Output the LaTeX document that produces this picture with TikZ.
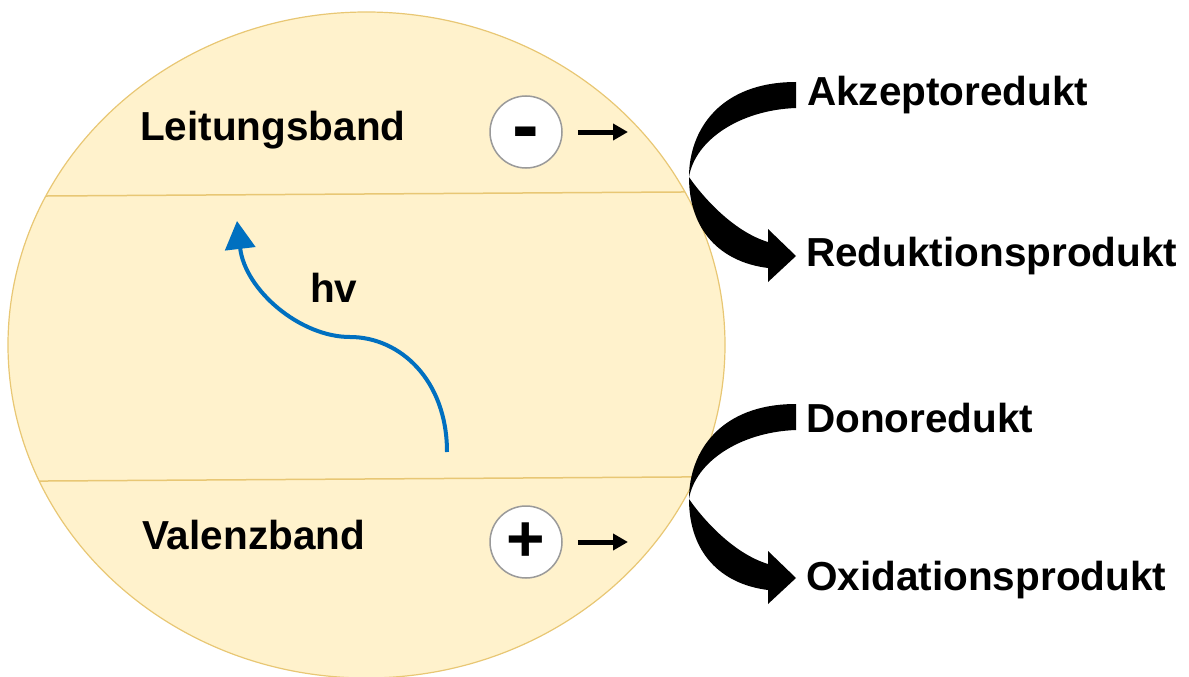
\documentclass[tikz,border=0pt]{standalone}
\usepackage{fontspec}
\setmainfont{Liberation Sans}
\usetikzlibrary{arrows.meta}
\definecolor{bandfill}{HTML}{FFF2CC}
\definecolor{bandline}{HTML}{E8C774}
\definecolor{hvblue}{HTML}{0070C0}
\definecolor{ringgray}{HTML}{9A9A9A}
\begin{document}
\begin{tikzpicture}[x=1pt,y=-1pt,
  lbl/.style={font=\fontsize{40.5}{48}\selectfont\bfseries, inner sep=0pt, anchor=base west},
  charge/.style={circle, draw=ringgray, line width=1.5pt, fill=white, minimum size=72pt, inner sep=0pt},
  smallarr/.style={line width=5pt, -{Triangle[length=15pt,width=16pt]}},
  bandsep/.style={draw=bandline, line width=1.5pt},
  curvearrow/.pic={
    \fill[black] (796,82) .. controls (720,82) and (689,130) .. (689,177)
      .. controls (689,230) and (720,262) .. (768,268)
      -- (768,282) -- (796,256) -- (768,229) -- (768,242)
      .. controls (735,232) and (705,200) .. (689,177)
      .. controls (695,140) and (740,110) .. (796,108) -- cycle;
  }]
\useasboundingbox (0,0) rectangle (1189,677);
% particle
\fill[bandfill] (366.5,345) ellipse [x radius=358.5, y radius=333];
\begin{scope}
  \clip (366.5,345) ellipse [x radius=358.5, y radius=333];
  \draw[bandsep] (0,196.3) -- (760,191.5);
  \draw[bandsep] (0,481.3) -- (760,476.5);
\end{scope}
\draw[bandline, line width=1.2pt] (366.5,345) ellipse [x radius=358.5, y radius=333];
% labels
\node[lbl] (lb) at (140,140) {Leitungsband};
\node[lbl] (vb) at (142,549) {Valenzband};
\node[lbl] (hv) at (310,302) {hv};
% charges
\node[charge, font=\fontsize{80}{80}\selectfont\bfseries] (eminus) at (526,132) {\smash{\raisebox{-0.25em}{-}}};
\node[charge, font=\fontsize{66}{66}\selectfont\bfseries] (hplus) at (526,542) {+};
\coordinate (ea) at (628,132);
\coordinate (ha) at (628,542);
\draw[smallarr] ([xshift=15pt]eminus.east) -- (ea);
\draw[smallarr] ([xshift=15pt]hplus.east) -- (ha);
% photon
\draw[hvblue, line width=4pt, -{Triangle[length=28pt,width=30pt]}]
  (447,452) .. controls (447,380) and (400,337) .. (350,337)
  .. controls (300,337) and (245,290) .. (237,221);
% redox arrows
\pic at (0,0) {curvearrow};
\pic at (0,322) {curvearrow};
\node[lbl] (akz) at (807,105) {Akzeptoredukt};
\node[lbl] (red) at (806,266) {Reduktionsprodukt};
\node[lbl] (don) at (806,432) {Donoredukt};
\node[lbl] (oxi) at (806,590) {Oxidationsprodukt};
\end{tikzpicture}
\end{document}
